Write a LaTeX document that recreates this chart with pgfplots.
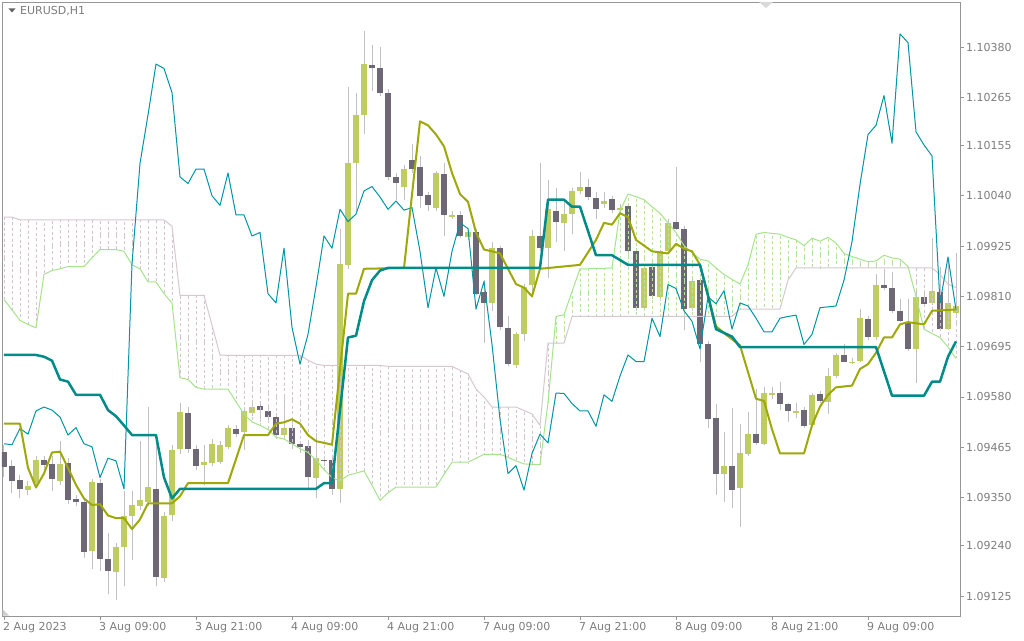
\documentclass[border=0pt]{standalone}
\usepackage{fontspec}
\setmainfont{DejaVu Sans}
\usepackage{pgfplots}
\usepackage{pgfplotstable}
\pgfplotsset{compat=1.18}

\definecolor{bull}{RGB}{190,204,96}
\definecolor{bear}{RGB}{110,103,117}
\definecolor{wick}{RGB}{192,192,192}
\definecolor{tenkan}{RGB}{158,168,8}
\definecolor{kijun}{RGB}{0,139,139}
\definecolor{chikou}{RGB}{0,150,165}
\definecolor{spana}{RGB}{165,228,140}
\definecolor{spanb}{RGB}{215,200,208}
\definecolor{hatchpink}{RGB}{215,195,208}
\definecolor{hatchgreen}{RGB}{180,228,160}
\definecolor{txt}{RGB}{125,125,125}
\definecolor{frame}{RGB}{150,150,150}

\pgfplotstableread{
x o h l c
3 1.09368 1.09388 1.09357 1.09377
4 1.09383 1.09444 1.09374 1.09437
7 1.09388 1.09479 1.09379 1.09427
11 1.09227 1.09392 1.09186 1.09385
14 1.09179 1.09247 1.09116 1.09238
15 1.09238 1.09366 1.09147 1.09308
16 1.09308 1.09366 1.09208 1.09334
17 1.09331 1.09479 1.09322 1.09345
18 1.09339 1.09558 1.09331 1.09374
20 1.09167 1.09318 1.09156 1.09309
21 1.09311 1.09471 1.09296 1.09458
22 1.09460 1.09567 1.09449 1.09545
25 1.09425 1.09471 1.09379 1.09431
26 1.09430 1.09484 1.09423 1.09473
27 1.09431 1.09479 1.09427 1.09471
28 1.09466 1.09515 1.09462 1.09508
30 1.09499 1.09558 1.09458 1.09548
31 1.09543 1.09567 1.09536 1.09557
35 1.09493 1.09576 1.09484 1.09510
39 1.09394 1.09497 1.09348 1.09440
42 1.09370 1.09965 1.09338 1.09884
43 1.09882 1.10289 1.09873 1.10114
44 1.10114 1.10276 1.10005 1.10225
45 1.10225 1.10416 1.10180 1.10341
50 1.10061 1.10110 1.10031 1.10101
54 1.10012 1.10096 1.10005 1.10092
56 1.09991 1.10005 1.09987 1.09996
58 1.09945 1.09963 1.09939 1.09956
61 1.09795 1.09935 1.09777 1.09920
64 1.09653 1.09729 1.09646 1.09723
65 1.09723 1.09838 1.09707 1.09832
66 1.09837 1.09961 1.09821 1.09948
68 1.09920 1.10075 1.09851 1.10009
70 1.09978 1.10031 1.09913 1.09998
71 1.09998 1.10057 1.09952 1.10051
72 1.10051 1.10094 1.10044 1.10061
75 1.10021 1.10048 1.10013 1.10028
77 1.10007 1.10022 1.10000 1.10013
80 1.09784 1.09882 1.09777 1.09875
82 1.09808 1.09917 1.09803 1.09913
83 1.09913 1.09987 1.09908 1.09978
86 1.09784 1.09851 1.09777 1.09844
90 1.09405 1.09501 1.09339 1.09423
92 1.09373 1.09519 1.09283 1.09451
93 1.09449 1.09545 1.09444 1.09495
95 1.09473 1.09602 1.09471 1.09589
96 1.09585 1.09602 1.09576 1.09588
99 1.09543 1.09567 1.09532 1.09548
101 1.09516 1.09589 1.09515 1.09585
103 1.09569 1.09646 1.09541 1.09628
104 1.09627 1.09681 1.09624 1.09676
106 1.09659 1.09668 1.09655 1.09661
107 1.09662 1.09781 1.09659 1.09760
109 1.09716 1.09860 1.09711 1.09837
114 1.09690 1.09825 1.09611 1.09809
116 1.09795 1.09943 1.09790 1.09823
118 1.09735 1.09895 1.09732 1.09795
119 1.09773 1.09908 1.09768 1.09788
}\bullT

\pgfplotstableread{
x o h l c
0 1.09455 1.09471 1.09396 1.09421
1 1.09423 1.09436 1.09361 1.09388
2 1.09390 1.09401 1.09348 1.09370
5 1.09436 1.09444 1.09414 1.09425
6 1.09427 1.09444 1.09366 1.09392
8 1.09429 1.09440 1.09335 1.09344
9 1.09346 1.09357 1.09331 1.09341
10 1.09339 1.09348 1.09213 1.09226
12 1.09383 1.09392 1.09182 1.09210
13 1.09210 1.09269 1.09129 1.09182
19 1.09369 1.09479 1.09147 1.09169
23 1.09543 1.09558 1.09453 1.09462
24 1.09460 1.09471 1.09414 1.09423
29 1.09506 1.09515 1.09488 1.09495
32 1.09560 1.09567 1.09523 1.09550
33 1.09548 1.09558 1.09528 1.09534
34 1.09534 1.09541 1.09484 1.09493
36 1.09510 1.09532 1.09462 1.09473
37 1.09473 1.09479 1.09453 1.09466
38 1.09469 1.09479 1.09370 1.09396
40 1.09437 1.09444 1.09423 1.09434
41 1.09436 1.09444 1.09357 1.09370
46 1.10339 1.10385 1.10280 1.10331
47 1.10333 1.10381 1.10267 1.10276
48 1.10276 1.10285 1.10075 1.10083
49 1.10083 1.10092 1.10031 1.10068
51 1.10121 1.10158 1.10092 1.10101
52 1.10105 1.10131 1.10013 1.10040
53 1.10041 1.10048 1.10005 1.10018
55 1.10090 1.10114 1.09948 1.09996
57 1.09996 1.10005 1.09943 1.09948
59 1.09958 1.09965 1.09812 1.09816
60 1.09819 1.09847 1.09703 1.09795
62 1.09920 1.09926 1.09733 1.09739
63 1.09738 1.09764 1.09650 1.09655
67 1.09949 1.10114 1.09913 1.09920
69 1.10005 1.10057 1.09935 1.09981
73 1.10061 1.10079 1.10031 1.10037
74 1.10035 1.10048 1.09987 1.10009
76 1.10033 1.10040 1.10000 1.10007
78 1.10016 1.10022 1.09908 1.09913
79 1.09913 1.09917 1.09777 1.09784
81 1.09878 1.09882 1.09803 1.09810
84 1.09980 1.10105 1.09961 1.09965
85 1.09965 1.09970 1.09733 1.09781
87 1.09847 1.09851 1.09659 1.09700
88 1.09700 1.09707 1.09510 1.09529
89 1.09532 1.09563 1.09357 1.09405
91 1.09423 1.09554 1.09326 1.09367
94 1.09495 1.09598 1.09471 1.09475
97 1.09589 1.09615 1.09550 1.09565
98 1.09564 1.09567 1.09523 1.09548
100 1.09551 1.09558 1.09510 1.09513
102 1.09586 1.09593 1.09567 1.09570
105 1.09676 1.09700 1.09659 1.09661
108 1.09758 1.09764 1.09711 1.09718
110 1.09837 1.09873 1.09825 1.09828
111 1.09830 1.09865 1.09773 1.09777
112 1.09777 1.09803 1.09751 1.09753
113 1.09751 1.09803 1.09685 1.09690
115 1.09809 1.09821 1.09790 1.09793
117 1.09819 1.09878 1.09732 1.09735
}\bearT

\pgfplotstableread{
x a b
0 1.09803 1.09991
1 1.09779 1.09991
2 1.09755 1.09985
3 1.09746 1.09985
4 1.09738 1.09985
5 1.09860 1.09985
6 1.09869 1.09985
7 1.09873 1.09985
8 1.09878 1.09985
9 1.09878 1.09985
10 1.09878 1.09985
11 1.09898 1.09985
12 1.09917 1.09985
13 1.09917 1.09985
14 1.09917 1.09985
15 1.09913 1.09985
16 1.09882 1.09985
17 1.09873 1.09985
18 1.09843 1.09985
19 1.09843 1.09985
20 1.09816 1.09985
21 1.09795 1.09970
22 1.09624 1.09812
23 1.09620 1.09812
24 1.09602 1.09812
25 1.09598 1.09812
26 1.09598 1.09744
27 1.09598 1.09676
28 1.09598 1.09675
29 1.09569 1.09675
30 1.09541 1.09675
31 1.09523 1.09675
32 1.09515 1.09675
33 1.09506 1.09675
34 1.09488 1.09675
35 1.09484 1.09675
36 1.09473 1.09675
37 1.09462 1.09675
38 1.09453 1.09664
39 1.09436 1.09655
40 1.09414 1.09652
41 1.09396 1.09652
42 1.09388 1.09652
43 1.09401 1.09652
44 1.09406 1.09652
45 1.09411 1.09652
46 1.09378 1.09652
47 1.09344 1.09652
48 1.09361 1.09650
49 1.09374 1.09650
50 1.09374 1.09650
51 1.09374 1.09650
52 1.09374 1.09650
53 1.09374 1.09650
54 1.09374 1.09650
55 1.09403 1.09650
56 1.09431 1.09650
57 1.09431 1.09641
58 1.09431 1.09633
59 1.09440 1.09598
60 1.09449 1.09580
61 1.09449 1.09557
62 1.09449 1.09557
63 1.09442 1.09557
64 1.09434 1.09557
65 1.09427 1.09549
66 1.09426 1.09541
67 1.09425 1.09515
68 1.09567 1.09703
69 1.09764 1.09703
70 1.09768 1.09703
71 1.09821 1.09764
72 1.09873 1.09764
73 1.09873 1.09764
74 1.09874 1.09764
75 1.09874 1.09764
76 1.09875 1.09764
77 1.10005 1.09764
78 1.10044 1.09764
79 1.10038 1.09764
80 1.10031 1.09764
81 1.10015 1.09764
82 1.10000 1.09764
83 1.09978 1.09764
84 1.09956 1.09764
85 1.09926 1.09764
86 1.09910 1.09764
87 1.09895 1.09764
88 1.09891 1.09764
89 1.09875 1.09764
90 1.09860 1.09764
91 1.09849 1.09764
92 1.09838 1.09781
93 1.09882 1.09781
94 1.09952 1.09781
95 1.09956 1.09781
96 1.09954 1.09781
97 1.09952 1.09781
98 1.09945 1.09847
99 1.09939 1.09875
100 1.09926 1.09875
101 1.09943 1.09875
102 1.09936 1.09875
103 1.09945 1.09875
104 1.09932 1.09875
105 1.09908 1.09875
106 1.09901 1.09875
107 1.09895 1.09875
108 1.09889 1.09875
109 1.09891 1.09875
110 1.09904 1.09875
111 1.09898 1.09875
112 1.09895 1.09875
113 1.09878 1.09875
114 1.09810 1.09875
115 1.09735 1.09875
116 1.09725 1.09875
117 1.09716 1.09860
118 1.09694 1.09838
119 1.09668 1.09830
}\spanT

\pgfplotstableread{
x y
0 1.09676
4 1.09676
5 1.09672
6 1.09663
7 1.09620
8 1.09615
9 1.09585
12 1.09585
13 1.09550
14 1.09536
15 1.09515
16 1.09493
19 1.09493
20 1.09396
21 1.09348
22 1.09370
39 1.09370
40 1.09383
41 1.09383
43 1.09716
44 1.09720
45 1.09799
46 1.09847
47 1.09869
48 1.09875
67 1.09875
68 1.10031
70 1.10031
71 1.10015
72 1.10015
74 1.09904
76 1.09904
78 1.09882
87 1.09882
88 1.09812
89 1.09735
91 1.09718
92 1.09694
109 1.09694
111 1.09583
115 1.09583
116 1.09615
117 1.09615
118 1.09672
119 1.09707
}\kijunT

\pgfplotstableread{
x y
0 1.09519
2 1.09519
3 1.09418
4 1.09373
5 1.09405
6 1.09453
7 1.09455
8 1.09418
9 1.09379
10 1.09348
11 1.09333
12 1.09335
13 1.09309
14 1.09303
15 1.09303
16 1.09278
17 1.09300
18 1.09337
21 1.09337
22 1.09353
23 1.09383
28 1.09383
30 1.09493
33 1.09493
34 1.09519
35 1.09522
36 1.09529
37 1.09519
38 1.09493
39 1.09479
40 1.09475
41 1.09471
43 1.09816
44 1.09816
45 1.09873
50 1.09875
52 1.10210
53 1.10201
54 1.10180
55 1.10153
56 1.10092
57 1.10044
58 1.10026
59 1.09956
60 1.09917
61 1.09913
62 1.09908
64 1.09838
65 1.09830
66 1.09810
67 1.09873
72 1.09882
74 1.09939
75 1.09978
76 1.09974
77 1.10000
78 1.09991
79 1.09939
80 1.09926
81 1.09913
83 1.09908
84 1.09930
85 1.09919
86 1.09913
87 1.09882
88 1.09812
89 1.09742
90 1.09726
91 1.09712
92 1.09698
94 1.09576
95 1.09571
96 1.09506
97 1.09451
100 1.09451
101 1.09515
102 1.09558
103 1.09585
104 1.09602
106 1.09606
107 1.09644
108 1.09655
109 1.09681
110 1.09716
111 1.09716
112 1.09746
113 1.09751
115 1.09746
116 1.09777
119 1.09780
}\tenkanT

\pgfplotstableread{
x y
0 1.09473
1 1.09471
2 1.09508
3 1.09495
4 1.09548
5 1.09557
6 1.09550
7 1.09534
8 1.09493
9 1.09510
10 1.09473
11 1.09466
12 1.09396
13 1.09440
14 1.09434
15 1.09370
16 1.09884
17 1.10114
18 1.10225
19 1.10341
20 1.10331
21 1.10276
22 1.10083
23 1.10068
24 1.10101
25 1.10101
26 1.10040
27 1.10018
28 1.10092
29 1.09996
30 1.09996
31 1.09948
32 1.09956
33 1.09816
34 1.09795
35 1.09920
36 1.09739
37 1.09655
38 1.09723
39 1.09832
40 1.09948
41 1.09920
42 1.10009
43 1.09981
44 1.09998
45 1.10051
46 1.10061
47 1.10037
48 1.10009
49 1.10028
50 1.10007
51 1.10013
52 1.09913
53 1.09784
54 1.09875
55 1.09810
56 1.09913
57 1.09978
58 1.09965
59 1.09781
60 1.09844
61 1.09700
62 1.09529
63 1.09405
64 1.09423
65 1.09367
66 1.09451
67 1.09495
68 1.09475
69 1.09589
70 1.09588
71 1.09565
72 1.09548
73 1.09548
74 1.09513
75 1.09585
76 1.09570
77 1.09628
78 1.09676
79 1.09661
80 1.09661
81 1.09760
82 1.09718
83 1.09837
84 1.09828
85 1.09777
86 1.09753
87 1.09690
88 1.09809
89 1.09793
90 1.09823
91 1.09735
92 1.09795
93 1.09788
94 1.09760
95 1.09729
96 1.09729
97 1.09760
98 1.09764
99 1.09767
100 1.09700
101 1.09723
102 1.09784
103 1.09786
104 1.09788
105 1.09847
106 1.09935
107 1.10066
108 1.10180
109 1.10201
110 1.10269
111 1.10160
112 1.10410
113 1.10390
114 1.10186
115 1.10156
116 1.10131
117 1.09795
118 1.09900
119 1.09779
}\chikouT

\begin{document}
\begin{tikzpicture}[x=1pt,y=1pt]
\useasboundingbox (0,0) rectangle (1024,640);
\begin{axis}[
  at={(2pt,24pt)}, anchor=south west,
  scale only axis, width=958pt, height=614pt,
  xmin=-0.25, xmax=119.5, ymin=1.090793, ymax=1.104829,
  axis line style={draw=frame, line width=0.8pt},
  tick align=outside, major tick length=4pt,
  tick style={draw=frame, line width=0.8pt},
  xtick pos=left, ytick pos=right,
  xticklabel pos=left, yticklabel pos=right,
  xtick={0,12,24,36,48,60,72,84,96,108},
  xticklabels={2 Aug 2023,3 Aug 09:00,3 Aug 21:00,4 Aug 09:00,4 Aug 21:00,7 Aug 09:00,7 Aug 21:00,8 Aug 09:00,8 Aug 21:00,9 Aug 09:00},
  ytick={1.09125,1.0924,1.0935,1.09465,1.0958,1.09695,1.0981,1.09925,1.1004,1.10155,1.10265,1.1038},
  yticklabels={1.09125,1.09240,1.09350,1.09465,1.09580,1.09695,1.09810,1.09925,1.10040,1.10155,1.10265,1.10380},
  xticklabel style={anchor=north west, inner sep=0pt, xshift=-1pt, yshift=-2.5pt, text=txt, font=\fontsize{11}{13}\selectfont},
  yticklabel style={anchor=west, inner sep=0pt, xshift=2pt, text=txt, font=\fontsize{11}{13}\selectfont},
  axis background/.style={fill=white},
  clip=true,
]
% wicks
\addplot[draw=none, mark=none, forget plot, error bars/.cd, y dir=plus, y explicit, error mark=none,
  error bar style={draw=wick, line width=1pt, solid}]
  table[x=x, y=l, y error expr=\thisrow{h}-\thisrow{l}] {\bullT};
\addplot[draw=none, mark=none, forget plot, error bars/.cd, y dir=plus, y explicit, error mark=none,
  error bar style={draw=wick, line width=1pt, solid}]
  table[x=x, y=l, y error expr=\thisrow{h}-\thisrow{l}] {\bearT};
% bodies
\addplot[draw=none, mark=none, forget plot, error bars/.cd, y dir=plus, y explicit, error mark=none,
  error bar style={draw=bull, line width=6pt, line cap=butt, solid}]
  table[x=x, y=o, y error expr=\thisrow{c}-\thisrow{o}] {\bullT};
\addplot[draw=none, mark=none, forget plot, error bars/.cd, y dir=plus, y explicit, error mark=none,
  error bar style={draw=bear, line width=6pt, line cap=butt, solid}]
  table[x=x, y=c, y error expr=\thisrow{o}-\thisrow{c}] {\bearT};
% cloud hatch
\addplot[draw=none, mark=none, forget plot, restrict x to domain=0:68, error bars/.cd, y dir=both, y explicit, error mark=none,
  error bar style={draw=hatchpink, line width=0.8pt, dash pattern=on 3pt off 2.5pt}]
  table[x=x, y expr=(\thisrow{a}+\thisrow{b})/2, y error expr=abs(\thisrow{a}-\thisrow{b})/2] {\spanT};
\addplot[draw=none, mark=none, forget plot, restrict x to domain=114:119, error bars/.cd, y dir=both, y explicit, error mark=none,
  error bar style={draw=hatchpink, line width=0.8pt, dash pattern=on 3pt off 2.5pt}]
  table[x=x, y expr=(\thisrow{a}+\thisrow{b})/2, y error expr=abs(\thisrow{a}-\thisrow{b})/2] {\spanT};
\addplot[draw=none, mark=none, forget plot, restrict x to domain=69:113, error bars/.cd, y dir=both, y explicit, error mark=none,
  error bar style={draw=hatchgreen, line width=0.8pt, dash pattern=on 3pt off 2.5pt}]
  table[x=x, y expr=(\thisrow{a}+\thisrow{b})/2, y error expr=abs(\thisrow{a}-\thisrow{b})/2] {\spanT};
% spans
\addplot[spana, line width=1pt, mark=none, line join=round] table[x=x, y=a] {\spanT};
\addplot[spanb, line width=1pt, mark=none, line join=round] table[x=x, y=b] {\spanT};
% tenkan, kijun, chikou
\addplot[chikou, line width=1pt, mark=none, line join=round] table {\chikouT};
\addplot[tenkan, line width=2pt, mark=none, line join=round] table {\tenkanT};
\addplot[kijun, line width=2.5pt, mark=none, line join=round] table {\kijunT};
\end{axis}
% title and chart markers
\fill[txt!80!black] (8.5,631.5) -- (15.5,631.5) -- (12,627.5) -- cycle;
\node[anchor=west, inner sep=0pt, text=txt, font=\fontsize{11}{13}\selectfont] at (20,628.5) {EURUSD,H1};
\fill[black!15] (759,638) -- (773,638) -- (766,632) -- cycle;
\fill[black!20] (2.5,24.5) -- (2.5,31) -- (9,24.5) -- cycle;
\end{tikzpicture}
\end{document}
